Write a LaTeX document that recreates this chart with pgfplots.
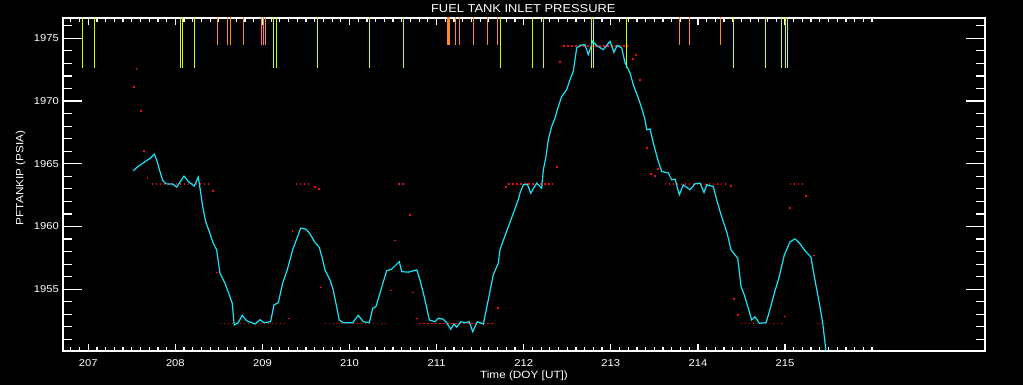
\documentclass[border=0pt]{standalone}
\usepackage{fontspec}
\setmainfont{Liberation Sans}[FakeStretch=1.12]
\usepackage{pgfplots}
\usepackage{pgfplotstable}
\pgfplotsset{compat=1.18}
\definecolor{idlcyan}{RGB}{20,230,250}
\definecolor{idlgreen}{RGB}{200,255,0}
\definecolor{idlorange}{RGB}{255,140,30}
\definecolor{idlred}{RGB}{245,10,10}
\pgfplotstableread{
x y
207.517 1964.44
207.563 1964.74
207.613 1964.98
207.663 1965.22
207.708 1965.42
207.758 1965.77
207.785 1965.32
207.823 1964.39
207.854 1963.67
207.892 1963.40
207.969 1963.38
208.015 1963.14
208.099 1964.02
208.148 1963.59
208.217 1963.22
208.263 1963.94
208.283 1963.06
208.314 1961.59
208.348 1960.40
208.389 1959.60
208.435 1958.67
208.474 1958.14
208.512 1956.28
208.570 1955.48
208.627 1954.41
208.653 1953.88
208.676 1952.15
208.722 1952.33
208.768 1952.92
208.819 1952.49
208.914 1952.23
208.972 1952.57
209.017 1952.33
209.094 1952.41
209.132 1953.75
209.182 1953.93
209.232 1955.48
209.285 1956.54
209.347 1958.14
209.439 1959.87
209.500 1959.79
209.546 1959.41
209.603 1958.72
209.652 1958.35
209.687 1957.47
209.718 1956.54
209.775 1955.74
209.813 1954.94
209.882 1952.55
209.928 1952.33
210.036 1952.33
210.100 1952.92
210.158 1952.41
210.227 1952.33
210.266 1953.48
210.303 1953.61
210.349 1954.68
210.426 1956.48
210.484 1956.60
210.571 1957.20
210.599 1956.40
210.674 1956.36
210.771 1956.54
210.809 1955.74
210.866 1954.15
210.916 1952.55
210.981 1952.41
211.019 1952.69
211.076 1952.61
211.115 1952.33
211.161 1951.81
211.199 1952.23
211.230 1951.97
211.276 1952.41
211.325 1952.33
211.375 1952.41
211.414 1951.62
211.467 1952.41
211.536 1952.23
211.593 1954.15
211.650 1956.14
211.708 1957.08
211.727 1958.14
211.796 1959.49
211.865 1960.77
211.937 1962.13
211.957 1962.66
211.995 1963.32
212.041 1963.38
212.080 1962.66
212.149 1963.46
212.206 1963.06
212.225 1964.52
212.256 1965.58
212.282 1966.92
212.321 1967.98
212.359 1968.65
212.397 1969.57
212.436 1970.37
212.493 1970.91
212.531 1971.70
212.569 1972.37
212.608 1974.23
212.646 1974.44
212.703 1974.50
212.741 1973.70
212.792 1974.76
212.838 1974.42
212.913 1974.10
212.990 1974.76
213.036 1973.88
213.074 1974.44
213.125 1974.23
213.163 1973.04
213.220 1972.24
213.258 1971.30
213.315 1970.24
213.354 1969.45
213.392 1968.51
213.412 1967.71
213.450 1967.77
213.488 1966.65
213.545 1965.18
213.584 1964.39
213.660 1964.26
213.699 1963.72
213.737 1963.78
213.786 1962.53
213.832 1963.32
213.909 1962.93
213.966 1963.40
214.024 1963.46
214.070 1962.71
214.101 1963.32
214.176 1963.19
214.215 1962.13
214.265 1960.93
214.334 1959.49
214.380 1958.14
214.457 1957.47
214.495 1955.21
214.532 1954.55
214.578 1953.48
214.617 1952.55
214.655 1952.81
214.705 1952.29
214.782 1952.33
214.820 1953.21
214.877 1954.68
214.934 1956.01
214.992 1957.74
215.057 1958.77
215.115 1959.01
215.172 1958.62
215.221 1958.14
215.298 1957.55
215.336 1956.01
215.394 1953.88
215.433 1952.29
215.471 1950.00
}\pressure
\pgfplotsset{
  idlbase/.style={
    at={(63pt,34pt)}, anchor=south west, scale only axis,
    width=922pt, height=333pt,
    xmin=206.71, xmax=217.296, ymin=1950.076, ymax=1976.62,
    axis line style={white, line width=1.2pt},
    tick style={white, line width=1.2pt},
    tick align=inside,
    tick label style={font=\fontsize{10}{12}\selectfont, text=white},
    /pgf/number format/assume math mode=true,
  },
  reddots/.style={idlred, line width=1.4pt, dash pattern=on 1.4pt off 2.6pt},
}
\begin{document}
\begin{tikzpicture}
\path[use as bounding box] (0,0) rectangle (1023pt,385pt);
\fill[black] (0,0) rectangle (1023pt,385pt);
% y ticks (long)
\begin{axis}[idlbase, xtick=\empty,
  ytick={1955,1960,1965,1970,1975},
  yticklabels={1955,1960,1965,1970,1975},
  minor ytick={1951,1952,1953,1954,1956,1957,1958,1959,1961,1962,1963,1964,1966,1967,1968,1969,1971,1972,1973,1974,1976},
  major tick length=18.7pt, minor tick length=9.3pt,
  yticklabel style={anchor=east, inner sep=0pt, xshift=-4pt}]
\end{axis}
% main axis with x ticks and data
\begin{axis}[idlbase, ytick=\empty,
  xtick={207,208,209,210,211,212,213,214,215},
  xticklabels={207,208,209,210,211,212,213,214,215},
  minor xtick={206.8,206.9,...,215.95},
  major tick length=7pt, minor tick length=3.8pt,
  xticklabel style={anchor=north, inner sep=0pt, yshift=-8pt},
  xlabel={Time (DOY [UT])},
  xlabel style={at={(axis description cs:0.5,-0.0811)}, anchor=base, yshift=0pt, inner sep=0pt, font=\fontsize{10.5}{12}\selectfont, text=white},
  ylabel={PFTANKIP (PSIA)},
  ylabel style={at={(axis description cs:-0.0431,0.52)}, anchor=base, xshift=0pt, inner sep=0pt, font=\fontsize{10.5}{12}\selectfont, text=white},
]
% event markers
\pgfplotsinvokeforeach{206.931,207.069,208.056,208.079,208.217,209.124,209.159,209.629,210.227,210.617,211.731,212.100,212.225,212.780,212.799,213.178,214.406,214.774,214.957,215.003,215.026}{
  \addplot[idlgreen, line width=1.2pt] coordinates {(#1,1977) (#1,1972.61)};
}
\pgfplotsinvokeforeach{208.481,208.596,208.630,208.780,208.986,209.009,209.032,211.130,211.145,211.214,211.260,211.421,211.581,211.696,213.786,213.901,214.257}{
  \addplot[idlorange, line width=1.2pt] coordinates {(#1,1977) (#1,1974.44)};
}
% red limit dots
\addplot[reddots] coordinates {(207.728,1963.38) (208.389,1963.38)};
\addplot[reddots] coordinates {(209.385,1963.38) (209.546,1963.38)};
\addplot[reddots] coordinates {(210.560,1963.38) (210.640,1963.38)};
\addplot[reddots] coordinates {(211.823,1963.38) (212.333,1963.38)};
\addplot[reddots] coordinates {(213.622,1963.38) (214.331,1963.38)};
\addplot[reddots] coordinates {(215.057,1963.38) (215.230,1963.38)};
\addplot[reddots] coordinates {(208.512,1952.29) (209.259,1952.29)};
\addplot[reddots] coordinates {(209.718,1952.29) (210.438,1952.29)};
\addplot[reddots] coordinates {(210.801,1952.29) (211.670,1952.29)};
\addplot[reddots] coordinates {(214.495,1952.29) (214.962,1952.29)};
\addplot[reddots] coordinates {(215.367,1952.29) (215.497,1952.29)};
\addplot[reddots] coordinates {(212.454,1974.39) (213.201,1974.39)};
\addplot[only marks, mark=square*, mark size=0.45pt, idlred, mark options={draw=none}] coordinates {
(207.551,1972.56) (207.517,1971.12) (207.597,1969.21) (207.632,1966.01) (207.677,1963.86)
(208.424,1962.82) (209.342,1959.63) (209.595,1963.14) (209.641,1962.98) (210.686,1960.91)
(210.514,1958.91) (208.474,1956.36) (209.304,1952.69) (209.672,1955.16) (210.468,1954.92)
(210.720,1954.76) (210.766,1952.69) (211.696,1953.56) (215.325,1957.71) (214.406,1954.28)
(214.457,1953.00) (214.992,1952.85) (212.408,1973.12) (213.281,1973.68) (213.246,1973.36)
(213.327,1971.68) (212.374,1964.74) (211.788,1963.14) (213.407,1966.25) (213.453,1964.18)
(213.499,1964.02) (213.533,1964.58) (214.372,1963.22) (215.057,1961.49) (215.241,1962.45)
};
% pressure
\addplot[idlcyan, line width=1.2pt] table {\pressure};
\end{axis}
\node[anchor=base, inner sep=0pt, text=white, font=\fontsize{11.5}{14}\selectfont] at (523.3pt,372.3pt) {FUEL TANK INLET PRESSURE};
\end{tikzpicture}
\end{document}
